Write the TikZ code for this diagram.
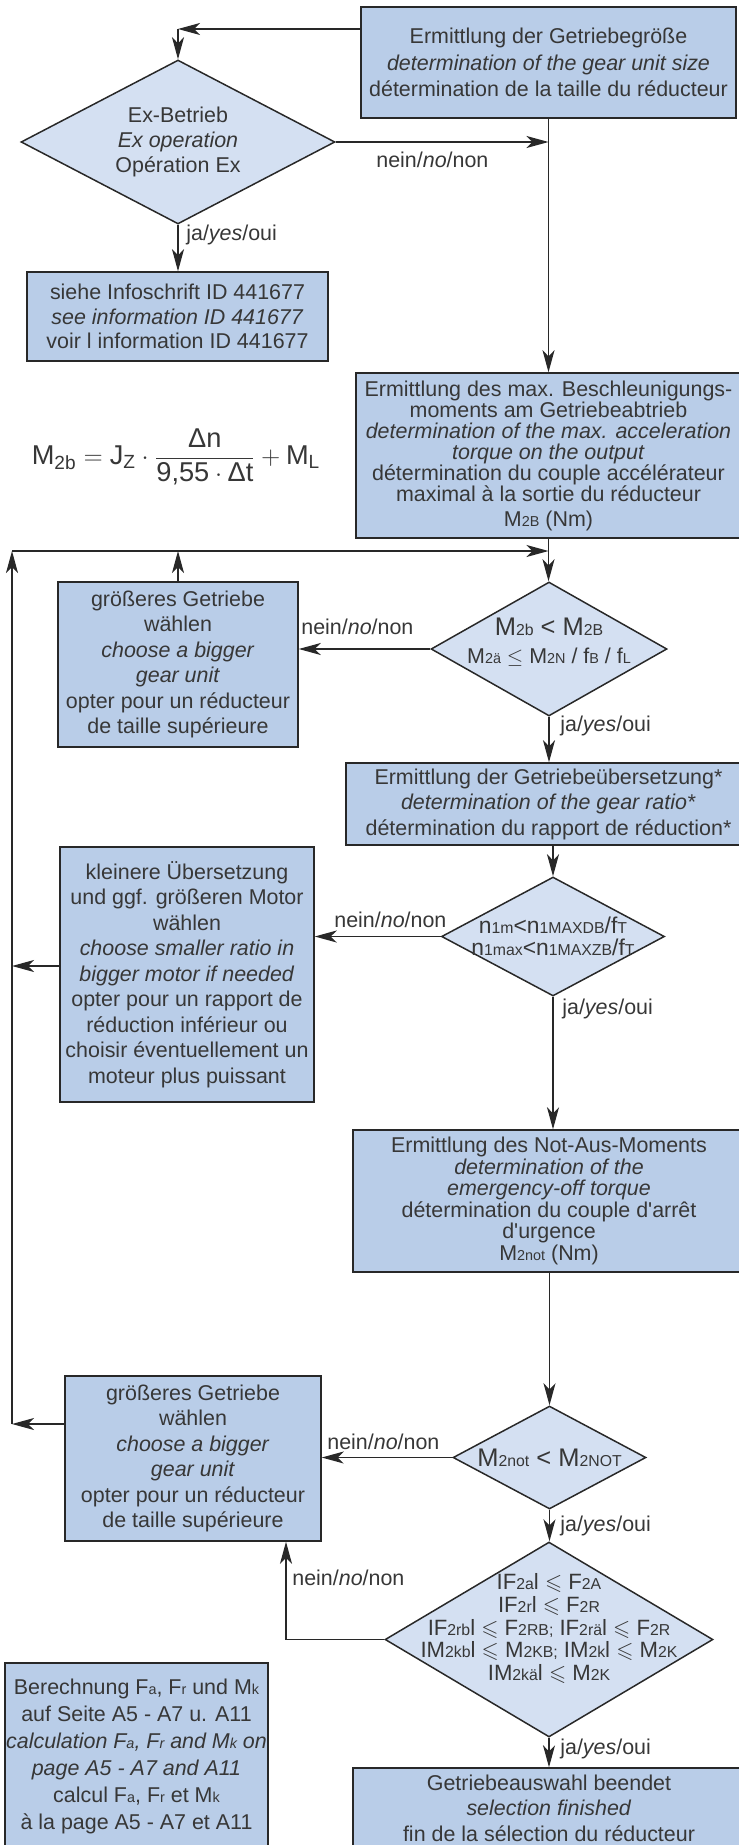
\documentclass[tikz,border=0pt]{standalone}
\usepackage{amsmath}
\usepackage{amssymb}
\usepackage{xcolor}
\usepackage{fontspec}
\setmainfont{Liberation Sans}
\usetikzlibrary{arrows.meta,shapes.geometric}
\definecolor{boxblue}{RGB}{185,205,232}
\definecolor{decblue}{RGB}{212,224,242}
\definecolor{linegray}{RGB}{40,40,40}
\definecolor{textgray}{RGB}{55,55,55}
\newcommand{\ix}[1]{{\fontsize{8.2}{8}\selectfont #1}}
\newcommand{\ixl}[1]{{\fontsize{9}{9}\selectfont #1}}

\begin{document}
\begin{tikzpicture}[x=0.02cm,y=-0.02cm,
  stepbox/.style={rectangle,draw=linegray,fill=boxblue,line width=0.85pt,inner sep=0pt,align=center,text=textgray,font=\fontsize{12.2}{14.5}\selectfont},
  decision/.style={diamond,draw=linegray,fill=decblue,line width=0.85pt,inner sep=0pt},
  dectext/.style={align=center,text=textgray,inner sep=0pt,font=\fontsize{12.2}{14.2}\selectfont},
  answer/.style={text=textgray,inner sep=0pt,anchor=west,font=\fontsize{12.2}{14}\selectfont},
  flow/.style={draw=linegray,line width=0.75pt,-{Stealth[length=0.44cm,width=0.24cm,inset=0.12cm]}}]
\useasboundingbox (0,0) rectangle (738,1845);

\node[stepbox,minimum width=7.5cm,minimum height=2.22cm,font=\fontsize{12.2}{15}\selectfont] (size) at (548.5,62.5) {Ermittlung der Getriebegröße\\\textit{determination of the gear unit size}\\détermination de la taille du réducteur};
\node[decision,minimum width=6.28cm,minimum height=3.28cm,label={[dectext]center:{Ex-Betrieb\\\textit{Ex operation}\\Opération Ex}}] (ex) at (178,142) {};
\node[stepbox,minimum width=6.02cm,minimum height=1.78cm,font=\fontsize{12.2}{14}\selectfont] (info) at (177.5,316.5) {siehe Infoschrift ID 441677\\\textit{see information ID 441677}\\voir l information ID 441677};
\node[text=textgray,inner sep=0pt,font=\fontsize{15.5}{18}\selectfont] (formula) at (176,457) {$\text{M}_{\text{2b}}=\text{J}_{\text{Z}}\cdot\dfrac{\text{Δn}}{\text{9,55}\cdot\text{Δt}}+\text{M}_{\text{L}}$};
\node[stepbox,minimum width=7.7cm,minimum height=3.3cm,font=\fontsize{12.2}{12}\selectfont] (accel) at (548.5,455.5) {Ermittlung des max. Beschleunigungs-\\moments am Getriebeabtrieb\\\textit{determination of the max. acceleration}\\\textit{torque on the output}\\détermination du couple accélérateur\\maximal à la sortie du réducteur\\[2pt]M\ix{2B} (Nm)};
\node[stepbox,minimum width=4.8cm,minimum height=3.3cm] (big1) at (178,664.5) {größeres Getriebe\\wählen\\\textit{choose a bigger}\\\textit{gear unit}\\opter pour un réducteur\\de taille supérieure};
\node[decision,minimum width=4.72cm,minimum height=2.68cm,label={[dectext,yshift=0.14cm]center:{{\fontsize{14.5}{16}\selectfont M\ixl{2b} < M\ixl{2B}}\\[2pt]M\ix{2ä} $\leq$ M\ix{2N} / f\ix{B} / f\ix{L}}}] (torque) at (549,649) {};
\node[stepbox,minimum width=8.1cm,minimum height=1.64cm] (ratio) at (548.5,804) {Ermittlung der Getriebeübersetzung*\\\textit{determination of the gear ratio*}\\détermination du rapport de réduction*};
\node[decision,minimum width=4.46cm,minimum height=2.38cm,label={[dectext,font=\fontsize{13}{12.5}\selectfont]center:{n\ixl{1m}<n\ixl{1MAXDB}/f\ixl{T}\\n\ixl{1max}<n\ixl{1MAXZB}/f\ixl{T}}}] (nchk) at (553,936.5) {};
\node[stepbox,minimum width=5.08cm,minimum height=5.1cm] (smaller) at (187,974.5) {kleinere Übersetzung\\und ggf. größeren Motor\\wählen\\\textit{choose smaller ratio in}\\\textit{bigger motor if needed}\\opter pour un rapport de\\réduction inférieur ou\\choisir éventuellement un\\moteur plus puissant};
\node[stepbox,minimum width=7.84cm,minimum height=2.84cm,font=\fontsize{12.2}{12.2}\selectfont] (notaus) at (549,1201) {Ermittlung des Not-Aus-Moments\\\textit{determination of the}\\\textit{emergency-off torque}\\détermination du couple d\textquotesingle arrêt\\d\textquotesingle urgence\\M\ix{2not} (Nm)};
\node[decision,minimum width=3.86cm,minimum height=2.06cm,label={[dectext,font=\fontsize{14.5}{16}\selectfont]center:{M\ixl{2not} < M\ixl{2NOT}}}] (notchk) at (549.5,1457.5) {};
\node[stepbox,minimum width=5.12cm,minimum height=3.3cm] (big2) at (193,1458.5) {größeres Getriebe\\wählen\\\textit{choose a bigger}\\\textit{gear unit}\\opter pour un réducteur\\de taille supérieure};
\node[decision,minimum width=6.56cm,minimum height=3.9cm,label={[dectext,yshift=0.22cm,font=\fontsize{12.6}{13}\selectfont]center:{IF\ixl{2a}l $\leqslant$ F\ixl{2A}\\IF\ixl{2r}l $\leqslant$ F\ixl{2R}\\IF\ixl{2rb}l $\leqslant$ F\ixl{2RB;} IF\ixl{2rä}l $\leqslant$ F\ixl{2R}\\IM\ixl{2kb}l $\leqslant$ M\ixl{2KB;} IM\ixl{2k}l $\leqslant$ M\ixl{2K}\\IM\ixl{2kä}l $\leqslant$ M\ixl{2K}}}] (load) at (549,1639.5) {};
\node[stepbox,minimum width=5.26cm,minimum height=3.74cm,font=\fontsize{12.2}{15.3}\selectfont] (calc) at (136.5,1756.5) {Berechnung F\ix{a}, F\ix{r} und M\ix{k}\\auf Seite A5 - A7 u. A11\\\textit{calculation F\ix{a}, F\ix{r} and M\ix{k} on}\\\textit{page A5 - A7 and A11}\\calcul F\ix{a}, F\ix{r} et M\ix{k}\\à la page A5 - A7 et A11};
\node[stepbox,minimum width=7.84cm,minimum height=1.6cm] (done) at (549,1808) {Getriebeauswahl beendet\\\textit{selection finished}\\fin de la sélection du réducteur};

\coordinate (c0) at (178,29);
\coordinate (jn) at (548.5,551);
\coordinate (cl) at (12,551);
\coordinate (l1) at (12,966);
\coordinate (l2) at (12,1424);
\coordinate (c2) at (286,1639.5);

\draw[flow] (size.west |- c0) -- (c0);
\draw[flow] (c0) -- (ex.north);
\draw[flow] (ex.east) -- (ex.east -| size.south);
\draw[flow] (ex.south) -- (ex.south |- info.north);
\draw[flow] (size.south) -- (accel.north);
\draw[flow] (accel.south) -- (accel.south |- torque.north);
\draw[flow] (torque.west) -- (torque.west -| big1.east);
\draw[flow] (big1.north) -- (big1.north |- jn);
\draw[flow] (l2) -- (cl);
\draw[flow] (cl) -- (jn);
\draw[flow] (torque.south) -- (torque.south |- ratio.north);
\draw[flow] (nchk.north |- ratio.south) -- (nchk.north);
\draw[flow] (nchk.west) -- (nchk.west -| smaller.east);
\draw[flow] (smaller.west |- l1) -- (l1);
\draw[flow] (nchk.south) -- (nchk.south |- notaus.north);
\draw[flow] (notchk.north |- notaus.south) -- (notchk.north);
\draw[flow] (notchk.west) -- (notchk.west -| big2.east);
\draw[flow] (big2.west |- l2) -- (l2);
\draw[flow] (notchk.south) -- (notchk.south |- load.north);
\draw[flow] (load.west) -- (c2) -- (c2 |- big2.south);
\draw[flow] (load.south) -- (load.south |- done.north);

\node[answer] (no1) at (376,160) {nein/\textit{no}/non};
\node[answer] (yes1) at (186,235) {ja/\textit{yes}/oui};
\node[answer] (no2) at (301,627) {nein/\textit{no}/non};
\node[answer] (yes2) at (560,726) {ja/\textit{yes}/oui};
\node[answer] (no3) at (334,920) {nein/\textit{no}/non};
\node[answer] (yes3) at (562,1009) {ja/\textit{yes}/oui};
\node[answer] (no4) at (327,1442) {nein/\textit{no}/non};
\node[answer] (yes4) at (560,1526) {ja/\textit{yes}/oui};
\node[answer] (no5) at (292,1578) {nein/\textit{no}/non};
\node[answer] (yes5) at (560,1749) {ja/\textit{yes}/oui};
\end{tikzpicture}
\end{document}
